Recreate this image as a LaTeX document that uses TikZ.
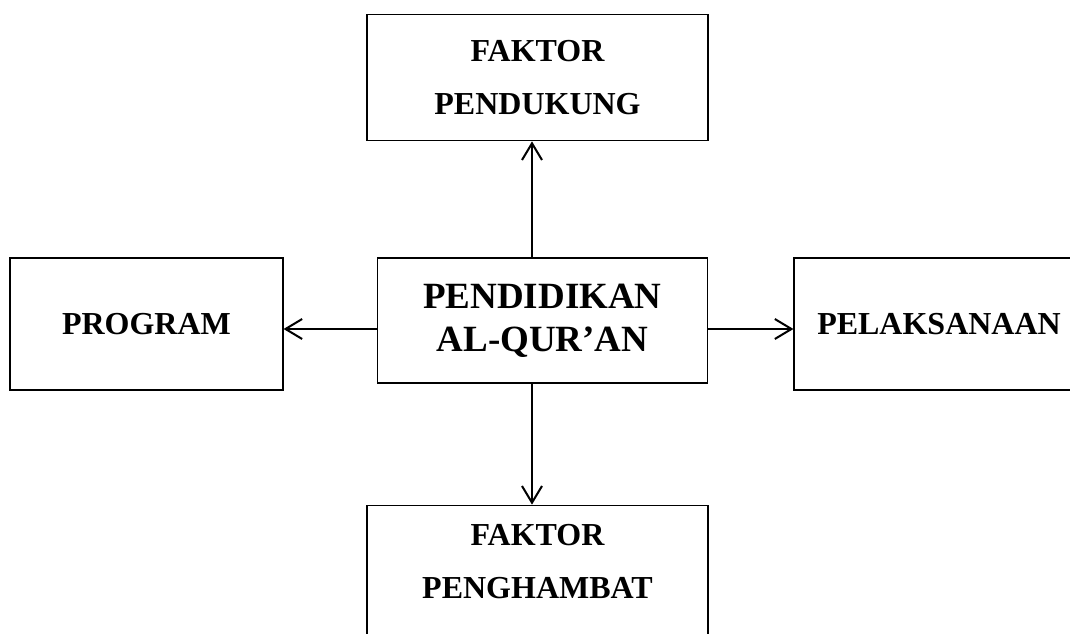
\documentclass[tikz,border=0pt]{standalone}
\usepackage{fontspec}
\setmainfont{Liberation Serif}
\usepackage{tikz}
\usetikzlibrary{arrows.meta, positioning, calc}
\tikzset{
    boxnode/.style = {draw, rectangle, line width=0.9pt, inner sep=0pt, align=center,
      font=\fontsize{24}{39.75}\selectfont\bfseries},
    bignode/.style = {boxnode, font=\fontsize{27.75}{32.25}\selectfont\bfseries},
    connect/.style = {black, line width=1.7pt, -{Straight Barb[length=12.5pt, width=15pt, line width=1.5pt]}}
}

\begin{document}
\begin{tikzpicture}[x=0.75pt, y=-0.75pt]
    \useasboundingbox (0,0) rectangle (1070,634);

    \node [name=pend, bignode, minimum width=248pt, minimum height=93.75pt] at (542.5,320.5)
        {PENDIDIKAN\\AL-QUR'AN};

    \node [name=dukung, boxnode, minimum width=255.75pt, minimum height=94.5pt,
        above=87pt of pend, xshift=-3.75pt] {FAKTOR\\PENDUKUNG};
    \node [name=hambat, boxnode, minimum width=255.75pt, minimum height=97pt,
        below=90.75pt of pend.south, anchor=north, xshift=-3.75pt]
        {FAKTOR\\PENGHAMBAT\\[-27.75pt]\mbox{}};

    \node [name=program, boxnode, minimum width=204.75pt, minimum height=99pt,
        left=69.75pt of pend, yshift=-2.6pt] {PROGRAM};
    \node [name=laksana, boxnode, minimum width=217.5pt, minimum height=99pt,
        right=63.75pt of pend, yshift=-2.6pt] {PELAKSANAAN};

    \coordinate (mid) at (532,329);

    \draw [connect] (pend.north -| mid) -- (dukung.south -| mid);
    \draw [connect] (pend.south -| mid) -- (hambat.north -| mid);
    \draw [connect] (pend.west |- mid) -- (program.east |- mid);
    \draw [connect] (pend.east |- mid) -- (laksana.west |- mid);
\end{tikzpicture}
\end{document}
